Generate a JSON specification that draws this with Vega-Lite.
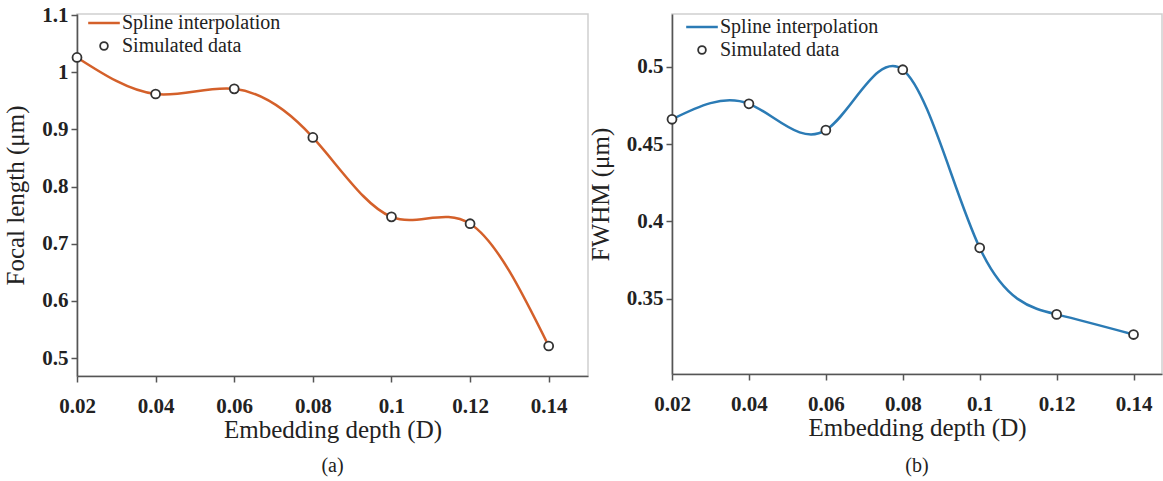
{
  "$schema": "https://vega.github.io/schema/vega-lite/v6.json",
  "background": "white",
  "padding": {"left": 3, "top": 3, "right": 0, "bottom": 0},
  "config": {
    "view": {"stroke": "#cfcfcf", "strokeWidth": 1.5},
    "font": "Liberation Serif",
    "concat": {"spacing": -2},
    "axis": {
      "grid": false,
      "domainColor": "#555555",
      "domainWidth": 1.6,
      "tickColor": "#555555",
      "tickWidth": 1.5,
      "tickSize": 6,
      "labelFont": "Liberation Serif",
      "labelFontSize": 21,
      "labelFontWeight": "bold",
      "labelColor": "#222222",
      "labelFlush": false,
      "labelOverlap": false,
      "titleFont": "Liberation Serif",
      "titleFontSize": 25,
      "titleFontWeight": "normal",
      "titleColor": "#222222"
    },
    "title": {"font": "Liberation Serif", "fontSize": 20, "fontWeight": "normal", "color": "#222222"}
  },
  "datasets": {
    "a": [
      {"depth": 0.02, "value": 1.026},
      {"depth": 0.04, "value": 0.962},
      {"depth": 0.06, "value": 0.971},
      {"depth": 0.08, "value": 0.886},
      {"depth": 0.10, "value": 0.747},
      {"depth": 0.12, "value": 0.735},
      {"depth": 0.14, "value": 0.521}
    ],
    "b": [
      {"depth": 0.02, "value": 0.466},
      {"depth": 0.04, "value": 0.476},
      {"depth": 0.06, "value": 0.459},
      {"depth": 0.08, "value": 0.498},
      {"depth": 0.10, "value": 0.383},
      {"depth": 0.12, "value": 0.340},
      {"depth": 0.14, "value": 0.327}
    ]
  },
  "resolve": {
    "scale": {"color": "independent", "x": "independent", "y": "independent"},
    "legend": {"color": "independent"}
  },
  "hconcat": [
    {
      "width": 511,
      "height": 362,
      "data": {"name": "a"},
      "title": {"text": "(a)", "orient": "bottom", "anchor": "middle", "offset": 14},
      "encoding": {
        "x": {
          "field": "depth", "type": "quantitative",
          "scale": {"domain": [0.02, 0.15], "nice": false, "zero": false},
          "axis": {"title": "Embedding depth (D)", "values": [0.02, 0.04, 0.06, 0.08, 0.1, 0.12, 0.14], "labelExpr": "toString(datum.value)", "labelPadding": 13, "titlePadding": 1}
        },
        "y": {
          "field": "value", "type": "quantitative",
          "scale": {"domain": [0.4685, 1.102], "nice": false, "zero": false},
          "axis": {"title": "Focal length (μm)", "values": [0.5, 0.6, 0.7, 0.8, 0.9, 1, 1.1], "labelExpr": "toString(datum.value)", "labelPadding": 3, "titlePadding": 13}
        }
      },
      "layer": [
        {
          "mark": {"type": "line", "interpolate": "natural", "strokeWidth": 2.5},
          "encoding": {
            "color": {
              "datum": "Spline interpolation",
              "scale": {"domain": ["Spline interpolation", "Simulated data"], "range": ["#d4602a", "#333333"]},
              "legend": {
                "orient": "none", "legendX": 17, "legendY": -1, "title": null, "padding": 0,
                "labelFontSize": 20, "labelFont": "Liberation Serif", "labelColor": "#222222",
                "rowPadding": 3, "symbolSize": 1000, "labelOffset": 8,
                "encode": {"symbols": {"update": {
                  "shape": {"signal": "datum.value === 'Spline interpolation' ? 'stroke' : 'circle'"},
                  "size": {"signal": "datum.value === 'Spline interpolation' ? 1000 : 60"},
                  "fill": {"signal": "datum.value === 'Spline interpolation' ? 'transparent' : 'white'"},
                  "strokeWidth": {"signal": "datum.value === 'Spline interpolation' ? 2.5 : 1.8"}
                }}}
              }
            }
          }
        },
        {
          "mark": {"type": "point", "filled": false, "fill": "white", "size": 80, "strokeWidth": 1.8, "opacity": 1},
          "encoding": {"color": {"datum": "Simulated data"}}
        }
      ]
    },
    {
      "width": 490,
      "height": 360,
      "data": {"name": "b"},
      "title": {"text": "(b)", "orient": "bottom", "anchor": "middle", "offset": 16},
      "encoding": {
        "x": {
          "field": "depth", "type": "quantitative",
          "scale": {"domain": [0.02, 0.1474], "nice": false, "zero": false},
          "axis": {"title": "Embedding depth (D)", "values": [0.02, 0.04, 0.06, 0.08, 0.1, 0.12, 0.14], "labelExpr": "toString(datum.value)", "labelPadding": 13, "titlePadding": 1}
        },
        "y": {
          "field": "value", "type": "quantitative",
          "scale": {"domain": [0.3015, 0.534], "nice": false, "zero": false},
          "axis": {"title": "FWHM (μm)", "values": [0.35, 0.4, 0.45, 0.5], "labelExpr": "toString(datum.value)", "labelPadding": 3, "titlePadding": 13}
        }
      },
      "layer": [
        {
          "mark": {"type": "line", "interpolate": "natural", "strokeWidth": 2.5},
          "encoding": {
            "color": {
              "datum": "Spline interpolation",
              "scale": {"domain": ["Spline interpolation", "Simulated data"], "range": ["#2b7bb5", "#333333"]},
              "legend": {
                "orient": "none", "legendX": 20, "legendY": 3, "title": null, "padding": 0,
                "labelFontSize": 20, "labelFont": "Liberation Serif", "labelColor": "#222222",
                "rowPadding": 3, "symbolSize": 1000, "labelOffset": 8,
                "encode": {"symbols": {"update": {
                  "shape": {"signal": "datum.value === 'Spline interpolation' ? 'stroke' : 'circle'"},
                  "size": {"signal": "datum.value === 'Spline interpolation' ? 1000 : 60"},
                  "fill": {"signal": "datum.value === 'Spline interpolation' ? 'transparent' : 'white'"},
                  "strokeWidth": {"signal": "datum.value === 'Spline interpolation' ? 2.5 : 1.8"}
                }}}
              }
            }
          }
        },
        {
          "mark": {"type": "point", "filled": false, "fill": "white", "size": 80, "strokeWidth": 1.8, "opacity": 1},
          "encoding": {"color": {"datum": "Simulated data"}}
        }
      ]
    }
  ]
}
